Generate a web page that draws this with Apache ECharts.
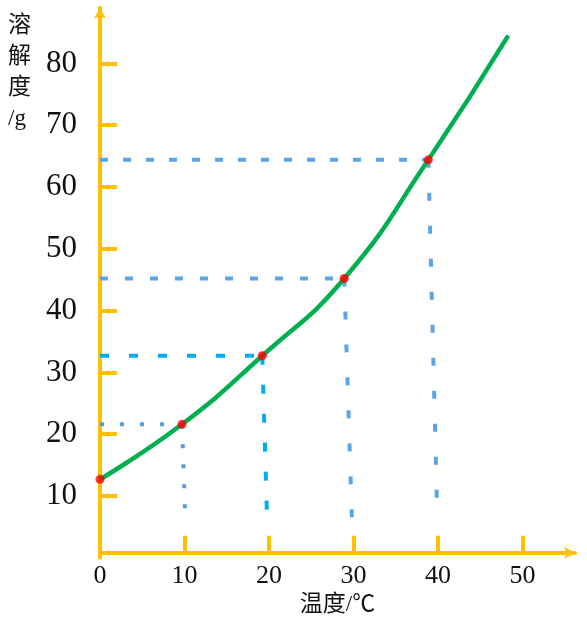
<!DOCTYPE html>
<html>
<head>
<meta charset="utf-8">
<script src="https://cdn.jsdelivr.net/npm/echarts@6/dist/echarts.min.js"></script>
<style>
  html, body { margin: 0; padding: 0; background: #fff; }
  #chart { width: 587px; height: 629px; }
</style>
</head>
<body>
<div id="chart"></div>
<script>
  // 溶解度曲线
  const curveTemp = [0, 9.7, 19.2, 28.9, 38.85, 48.3]
  const curveSol = [12.7, 21.6, 32.7, 45.2, 64.4, 84.5]
  // red marked points
  const dotTemp = [0, 9.7, 19.2, 28.9, 38.85]
  const dotSol = [12.7, 21.6, 32.7, 45.2, 64.4]
  // dashed helper lines: from y axis to point, then down towards x axis
  const guideTemp = [9.7, 19.2, 28.9, 38.85]
  const guideSol = [21.6, 32.7, 45.2, 64.4]
  const dropTemp = [10.1, 19.8, 29.8, 39.9]
  const dropEnd = [6.0, 4.8, 6.4, 6.8]
  // tick labels
  const xTicks = [0, 10, 20, 30, 40, 50]
  const yTicks = [10, 20, 30, 40, 50, 60, 70, 80]

  const axisColor = '#FFC000'
  const serif = "'Liberation Serif', 'Times New Roman', 'Noto Sans CJK SC', serif"
  const guideColor = ['#5b9bd5', '#00aeef', '#5ba4e6', '#5ba4e6']
  const hDash = [[4, 16], [9, 20], [8, 17], [8, 15]]
  const vDash = [[4, 16], [9, 20], [8, 25], [8, 25]]

  let guideSeries = []
  guideTemp.forEach((t, i) => {
    guideSeries.push({
      type: 'line',
      data: [[0, guideSol[i]], [t, guideSol[i]]],
      symbol: 'none',
      silent: true,
      z: 1,
      lineStyle: { color: guideColor[i], width: 4, type: hDash[i], cap: 'butt' }
    })
    guideSeries.push({
      type: 'line',
      data: [[t, guideSol[i]], [dropTemp[i], dropEnd[i]]],
      symbol: 'none',
      silent: true,
      z: 1,
      lineStyle: { color: guideColor[i], width: 4, type: vDash[i], cap: 'butt' }
    })
  })

  let option = {
    animation: false,
    grid: { left: 100, right: 12, top: 7.8, bottom: 71.2, containLabel: false, outerBoundsMode: 'none' },
    // y axis title, written vertically at the top left
    graphic: [{
      type: 'text',
      left: 8,
      top: 10,
      style: {
        text: '溶\n解\n度\n/g',
        font: "23px " + serif,
        lineHeight: 31,
        fill: '#111',
        align: 'center',
        width: 25
      }
    }],
    xAxis: {
      type: 'value',
      min: 0,
      max: 56.2,
      interval: 10,
      offset: -5,
      name: '温度/℃',
      nameLocation: 'middle',
      nameGap: 40,
      nameTextStyle: { fontFamily: serif, fontSize: 23, color: '#111' },
      axisLine: {
        symbol: ['none', 'arrow'],
        symbolSize: [9, 11],
        lineStyle: { color: axisColor, width: 4 }
      },
      axisTick: {
        inside: true,
        length: 17,
        customValues: xTicks.slice(1),
        lineStyle: { color: axisColor, width: 4 }
      },
      axisLabel: {
        customValues: xTicks,
        margin: 10,
        fontFamily: serif,
        fontSize: 26,
        color: '#111'
      },
      splitLine: { show: false }
    },
    yAxis: {
      type: 'value',
      min: 0,
      max: 89,
      interval: 10,
      axisLine: {
        symbol: ['none', 'arrow'],
        symbolSize: [9, 11],
        lineStyle: { color: axisColor, width: 4 }
      },
      axisTick: {
        inside: true,
        length: 17,
        customValues: yTicks,
        lineStyle: { color: axisColor, width: 4 }
      },
      axisLabel: {
        customValues: yTicks,
        margin: 23,
        fontFamily: serif,
        fontSize: 31,
        color: '#111'
      },
      splitLine: { show: false }
    },
    series: guideSeries.concat([
      {
        name: '溶解度',
        type: 'line',
        smooth: 0.5,
        symbol: 'none',
        z: 3,
        data: curveTemp.map((t, i) => [t, curveSol[i]]),
        lineStyle: { color: '#00b050', width: 4.5 }
      },
      {
        type: 'scatter',
        symbolSize: 9,
        z: 5,
        itemStyle: { color: '#ff0000' },
        data: dotTemp.map((t, i) => [t, dotSol[i]])
      }
    ])
  }

  let myChart = echarts.init(document.getElementById('chart'))
  myChart.setOption(option)
</script>
</body>
</html>
